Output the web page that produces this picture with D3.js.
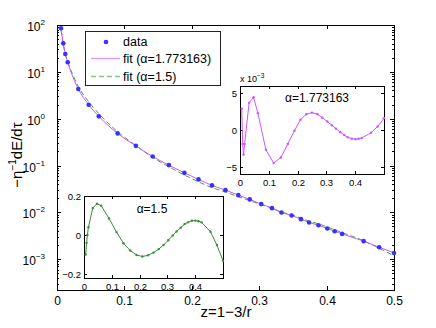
<!DOCTYPE html>
<html>
<head>
<meta charset="utf-8">
<script src="https://cdn.jsdelivr.net/npm/d3@7"></script>
<style>
  body { margin: 0; background: #fff; }
  svg { font-family: "Liberation Sans", Arial, sans-serif; }
</style>
</head>
<body>
<svg id="chart" width="436" height="328"></svg>
<script>
// z = 1 - 3/r sample points (shared by main plot and both insets)
var zValues = [0.006, 0.0093, 0.0123, 0.0159, 0.0316, 0.047, 0.062, 0.09, 0.117, 0.142,
               0.166, 0.189, 0.21, 0.23, 0.25, 0.269, 0.286, 0.303, 0.319, 0.333,
               0.348, 0.362, 0.374, 0.388, 0.401, 0.412, 0.423, 0.455, 0.478, 0.5];

// measured -eta^-1 dE/dtau
var dataValues = [85, 40.6, 24, 16, 4.29, 1.98, 1.12, 0.485, 0.263, 0.156,
                  0.102, 0.0698, 0.0505, 0.0376, 0.0298, 0.0233, 0.0189, 0.0150, 0.0123, 0.00995,
                  0.00859, 0.00716, 0.00608, 0.00532, 0.00453, 0.00396, 0.00347, 0.00243, 0.0018, 0.00136];

// fit with alpha = 1.773163
var fitA = [85.2, 40.5, 23.9, 15.97, 4.305, 1.989, 1.123, 0.4837, 0.2618, 0.1554,
            0.1018, 0.06979, 0.05057, 0.03768, 0.02987, 0.02335, 0.01893, 0.01502, 0.01231, 0.009952,
            0.008587, 0.007155, 0.006074, 0.005314, 0.004524, 0.003955, 0.003466, 0.002429, 0.001801, 0.001362];

// fit with alpha = 1.5
var fitB = [76.5, 39, 24, 16.6, 4.88, 2.30, 1.29, 0.526, 0.267, 0.149,
            0.094, 0.0627, 0.0449, 0.0337, 0.0271, 0.0216, 0.0179, 0.0146, 0.0123, 0.01013,
            0.00892, 0.00756, 0.00648, 0.00571, 0.00487, 0.00424, 0.00370, 0.00247, 0.00171, 0.00118];

// residuals shown in the insets
var residA = [2.9, -1.9, -3.35, -1.9, 3.7, 4.46, 2.3, -2.7, -4.5, -3.75,
              -1.9, -0.1, 1.4, 2.15, 2.37, 2.15, 1.68, 1.15, 0.64, 0.19,
              -0.29, -0.69, -1.0, -1.18, -1.25, -1.2, -1.08, -0.38, 0.48, 1.6];   // x 10^-3
var residB = [-0.10, -0.04, 0.0, 0.04, 0.138, 0.161, 0.150, 0.085, 0.015, -0.042,
              -0.079, -0.102, -0.110, -0.104, -0.090, -0.072, -0.051, -0.027, -0.002, 0.018,
              0.038, 0.056, 0.065, 0.073, 0.074, 0.071, 0.065, 0.017, -0.051, -0.132];

var xTicks = [0, 0.1, 0.2, 0.3, 0.4, 0.5];
var insetXTicks = [0, 0.1, 0.2, 0.3, 0.4];
var insetATicks = [-5, 0, 5];
var insetBTicks = [-0.2, 0, 0.2];

var svg = d3.select('#chart');
var blue = '#3333ff', violet = '#cc55ff', green = '#3d8b3d';

// ---------- main axes ----------
var L = 57, R = 394, T = 25, B = 290;
var x = d3.scaleLinear().domain([0, 0.5]).range([L, R]);
var y = d3.scaleLog().domain([2.2e-4, 100]).range([B, T]);

var main = svg.append('g');

// log ticks, major + minor, on left and right
y.ticks().forEach(function(v){
  var lg = Math.log10(v);
  var major = Math.abs(lg - Math.round(lg)) < 1e-9;
  var len = major ? 4 : 2;
  var py = Math.round(y(v)) + 0.5;
  main.append('line').attr('x1', L).attr('x2', L + len).attr('y1', py).attr('y2', py).attr('stroke', '#000');
  main.append('line').attr('x1', R).attr('x2', R - len).attr('y1', py).attr('y2', py).attr('stroke', '#000');
  if (major) {
    var t = main.append('text').attr('x', L - 12).attr('y', py + 5)
                .attr('text-anchor', 'end').attr('font-size', 12);
    t.append('tspan').text('10');
    t.append('tspan').attr('dy', -6).attr('font-size', 8).text(Math.round(lg) < 0 ? '\u2212' + (-Math.round(lg)) : Math.round(lg));
  }
});

// x ticks bottom and top
xTicks.forEach(function(v){
  var px = Math.round(x(v)) + 0.5;
  main.append('line').attr('x1', px).attr('x2', px).attr('y1', B).attr('y2', B - 4).attr('stroke', '#000');
  main.append('line').attr('x1', px).attr('x2', px).attr('y1', T).attr('y2', T + 4).attr('stroke', '#000');
  main.append('text').attr('x', px).attr('y', B + 15).attr('text-anchor', 'middle')
      .attr('font-size', 12).text(v);
});

main.append('rect').attr('x', L + 0.5).attr('y', T + 0.5).attr('width', R - L).attr('height', B - T)
    .attr('fill', 'none').attr('stroke', '#000');

// axis labels
main.append('text').attr('x', 226).attr('y', 317).attr('text-anchor', 'middle')
    .attr('font-size', 15).text('z=1\u22123/r');
var yl = main.append('text').attr('transform', 'translate(22,155) rotate(-90)')
    .attr('text-anchor', 'middle').attr('font-size', 15);
yl.append('tspan').text('\u2212\u03b7');
yl.append('tspan').attr('dy', -6).attr('font-size', 10).text('\u22121');
yl.append('tspan').attr('dy', 6).text('dE/d\u03c4');

// curves
var lineFit = function(vals){
  return d3.line().x(function(d, i){ return x(zValues[i]); })
                  .y(function(d){ return y(d); })
                  .curve(d3.curveMonotoneX)(vals);
};
main.append('path').attr('d', lineFit(fitB)).attr('fill', 'none')
    .attr('stroke', '#4a9a4a').attr('stroke-width', 1).attr('stroke-dasharray', '5,3');
main.append('path').attr('d', lineFit(fitA)).attr('fill', 'none')
    .attr('stroke', violet).attr('stroke-width', 1);
main.selectAll('circle.data').data(dataValues).enter().append('circle')
    .attr('class', 'data')
    .attr('cx', function(d, i){ return x(zValues[i]); })
    .attr('cy', function(d){ return y(d); })
    .attr('r', 2.3).attr('fill', blue);

// ---------- legend ----------
var lg = svg.append('g');
lg.append('rect').attr('x', 85.5).attr('y', 31.5).attr('width', 135).attr('height', 54)
  .attr('fill', '#fff').attr('stroke', '#222');
lg.append('circle').attr('cx', 106).attr('cy', 42).attr('r', 2.3).attr('fill', blue);
lg.append('line').attr('x1', 91).attr('x2', 120).attr('y1', 58.5).attr('y2', 58.5)
  .attr('stroke', '#dd99ff').attr('stroke-width', 1.3);
lg.append('line').attr('x1', 91).attr('x2', 120).attr('y1', 76.5).attr('y2', 76.5)
  .attr('stroke', '#8fbf8f').attr('stroke-width', 1.3).attr('stroke-dasharray', '5,3');
[['data', 46], ['fit (\u03b1=1.773163)', 63], ['fit (\u03b1=1.5)', 81]].forEach(function(e){
  lg.append('text').attr('x', 123).attr('y', e[1]).attr('font-size', 12.5).text(e[0]);
});

// ---------- inset helper ----------
var drawInset = function(box, xDom, yDom, yTicks, vals, color, title, titlePos){
  var g = svg.append('g');
  var ix = d3.scaleLinear().domain(xDom).range([box.l, box.r]);
  var iy = d3.scaleLinear().domain(yDom).range([box.b, box.t]);
  g.append('rect').attr('x', box.l).attr('y', box.t).attr('width', box.r - box.l).attr('height', box.b - box.t)
   .attr('fill', '#fff');
  insetXTicks.forEach(function(v){
    var px = Math.round(ix(v)) + 0.5;
    g.append('line').attr('x1', px).attr('x2', px).attr('y1', box.b).attr('y2', box.b - 3).attr('stroke', '#000');
    g.append('line').attr('x1', px).attr('x2', px).attr('y1', box.t).attr('y2', box.t + 3).attr('stroke', '#000');
    g.append('text').attr('x', px).attr('y', box.b + 12).attr('text-anchor', 'middle')
     .attr('font-size', 9.5).text(v);
  });
  yTicks.forEach(function(v){
    var py = Math.round(iy(v)) + 0.5;
    g.append('line').attr('x1', box.l).attr('x2', box.l + 3).attr('y1', py).attr('y2', py).attr('stroke', '#000');
    g.append('line').attr('x1', box.r).attr('x2', box.r - 3).attr('y1', py).attr('y2', py).attr('stroke', '#000');
    g.append('text').attr('x', box.l - 3).attr('y', py + 3.5).attr('text-anchor', 'end')
     .attr('font-size', 9.5).text(v < 0 ? '\u2212' + Math.abs(v) : v);
  });
  g.append('rect').attr('x', box.l + 0.5).attr('y', box.t + 0.5).attr('width', box.r - box.l).attr('height', box.b - box.t)
   .attr('fill', 'none').attr('stroke', '#000');
  var ln = d3.line().x(function(d, i){ return ix(zValues[i]); }).y(function(d){ return iy(d); });
  g.append('path').attr('d', ln(vals)).attr('fill', 'none').attr('stroke', color).attr('stroke-width', 1);
  g.selectAll('circle').data(vals).enter().append('circle')
   .attr('cx', function(d, i){ return ix(zValues[i]); })
   .attr('cy', function(d){ return iy(d); })
   .attr('r', 1.2).attr('fill', color);
  g.append('text').attr('x', titlePos[0]).attr('y', titlePos[1]).attr('text-anchor', 'middle')
   .attr('font-size', 12).text(title);
  return g;
};

var gA = drawInset({l: 240, r: 384, t: 86, b: 174}, [0, 0.5], [-6, 6], insetATicks, residA,
                   violet, '\u03b1=1.773163', [317, 102]);
var ex = gA.append('text').attr('x', 240).attr('y', 82).attr('font-size', 9);
ex.append('tspan').text('x 10');
ex.append('tspan').attr('dy', -4).attr('font-size', 6.5).text('\u22123');

drawInset({l: 84, r: 223, t: 196, b: 278}, [0, 0.5], [-0.22, 0.2], insetBTicks, residB,
          green, '\u03b1=1.5', [152, 213]);
</script>
</body>
</html>
